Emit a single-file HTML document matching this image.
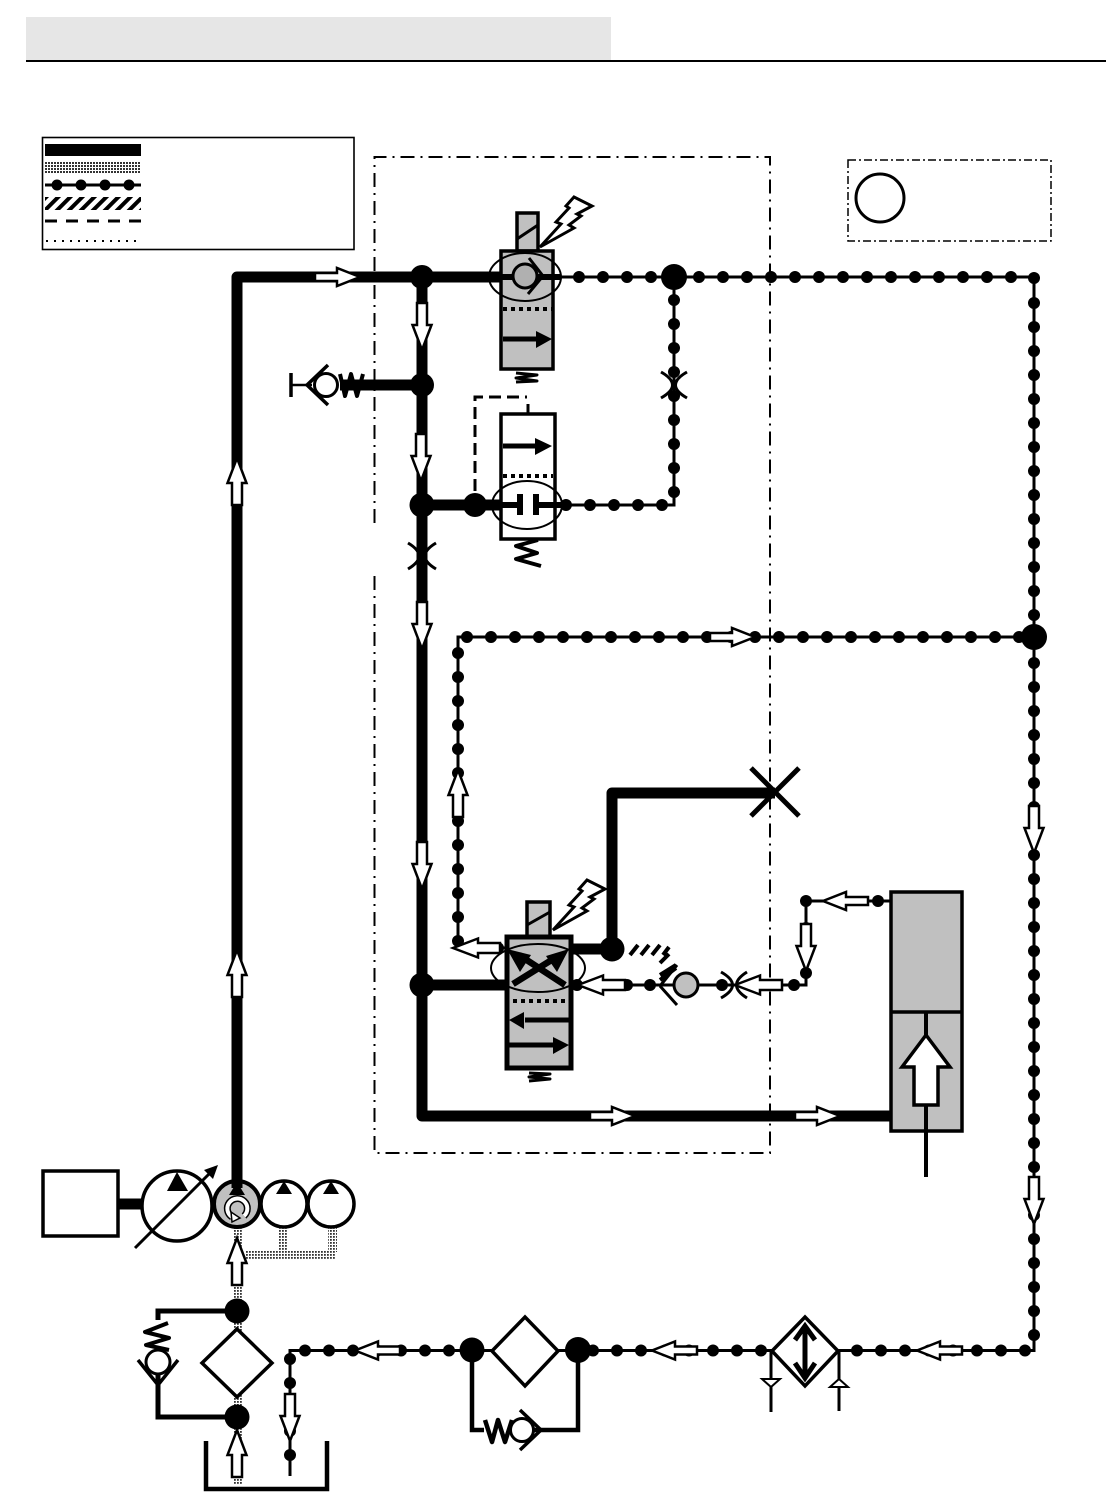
<!DOCTYPE html>
<html><head><meta charset="utf-8"><style>
html,body{margin:0;padding:0;background:#fff}
svg{display:block}
.dots{fill:none;stroke:#000;stroke-width:12;stroke-linecap:round;stroke-dasharray:0 24}
.thin{fill:none;stroke:#000;stroke-width:3}
.thick{fill:none;stroke:#000;stroke-width:11;stroke-linejoin:round;stroke-linecap:butt}
.arc{fill:none;stroke:#000;stroke-width:3}
.sp{fill:none;stroke:#000;stroke-linejoin:round}
</style></head><body>
<svg width="1106" height="1501" viewBox="0 0 1106 1501" xmlns="http://www.w3.org/2000/svg">
<defs>
<pattern id="st" width="3" height="3" patternUnits="userSpaceOnUse"><rect width="3" height="3" fill="#fff"/><rect width="2" height="2" fill="#333"/></pattern>
<pattern id="st2" width="3" height="3" patternUnits="userSpaceOnUse"><rect width="3" height="3" fill="#fff"/><rect width="1.8" height="1.8" fill="#333"/></pattern>
<pattern id="ha" width="8.500" height="8.500" patternUnits="userSpaceOnUse" patternTransform="rotate(45)"><rect width="8.500" height="8.500" fill="#fff"/><rect width="4" height="8.500" fill="#000"/></pattern>
<polygon id="a" points="0,-5 22,-5 22,-9.500 47,0 22,9.500 22,5 0,5" fill="#fff" stroke="#000" stroke-width="2.500"/>
<polygon id="b" points="0,-4 22,-4 22,-9 45,0 22,9 22,4 0,4" fill="#fff" stroke="#000" stroke-width="2.500"/>
</defs>
<rect width="1106" height="1501" fill="#fff"/>

<!-- header -->
<rect x="26" y="17" width="585" height="43" fill="#e6e6e6"/>
<rect x="26" y="60" width="1080" height="2" fill="#000"/>

<!-- legend -->
<rect x="42.500" y="137.500" width="311.500" height="112" fill="#fff" stroke="#000" stroke-width="1.600"/>
<rect x="45" y="144" width="96" height="12" fill="#000"/>
<rect x="45" y="161" width="96" height="13" fill="url(#st)"/>
<path d="M45,185H141" stroke="#000" stroke-width="3"/>
<circle cx="57" cy="185" r="5.500"/><circle cx="81" cy="185" r="5.500"/><circle cx="105" cy="185" r="5.500"/><circle cx="129" cy="185" r="5.500"/>
<rect x="45" y="197" width="96" height="13" fill="url(#ha)"/>
<path d="M45,221H141" stroke="#000" stroke-width="3" stroke-dasharray="12 9"/>
<path d="M46,241H139" stroke="#000" stroke-width="2" stroke-dasharray="2 6"/>

<!-- boundary -->
<path d="M374.500,523V157H770V1153H374.500V573" fill="none" stroke="#000" stroke-width="2" stroke-dasharray="14 6 2 6"/>
<rect x="848" y="160" width="203" height="81" fill="none" stroke="#000" stroke-width="1.500" stroke-dasharray="8 3 2 3"/>
<circle cx="880" cy="198" r="24" fill="#fff" stroke="#000" stroke-width="3"/>

<!-- stipple suction -->
<g fill="url(#st2)">
<rect x="233" y="1228" width="9" height="190"/>
<rect x="245" y="1250" width="91" height="10"/>
<rect x="278" y="1228" width="10" height="24"/>
<rect x="328" y="1228" width="9" height="24"/>
<rect x="233" y="1420" width="9" height="64"/>
</g>

<!-- thin pilot lines with dots -->
<path class="thin" d="M560,277H1034V1350.500H290V1476"/>
<path class="thin" d="M674,277V505H560"/>
<path class="thin" d="M1034,637H458V945L505,948"/>
<path class="dots" d="M579,277H660"/>
<path class="dots" d="M699,277H1020"/>
<circle cx="1034" cy="278" r="6"/>
<path class="dots" d="M1034,303V625"/>
<path class="dots" d="M1034,663V1345"/>
<path class="dots" d="M674,300V500"/>
<path class="dots" d="M566,505H670"/>
<path class="dots" d="M467,637H1025"/>
<path class="dots" d="M458,653V945"/>
<path class="dots" d="M593,1350.500H765"/>
<path class="dots" d="M857,1350.500H1030"/>
<path class="dots" d="M305,1350.500H455"/>
<path class="dots" d="M290,1359V1460"/>
<!-- lower valve pilot -->
<path class="thin" d="M572,985H806V901H890"/>
<g>
<circle cx="577" cy="985" r="6"/><circle cx="627" cy="985" r="6"/><circle cx="650" cy="985" r="6"/><circle cx="722" cy="985" r="6"/><circle cx="794" cy="985" r="6"/><circle cx="806" cy="973" r="6"/><circle cx="806" cy="928" r="6"/><circle cx="806" cy="901" r="6"/><circle cx="878" cy="901" r="6"/><circle cx="498" cy="948" r="6"/>
</g>

<!-- main pressure -->
<path class="thick" d="M237,1185V277H505"/>
<path class="thick" d="M422,277V1116H891"/>
<path class="thick" d="M422,385H340"/>
<path class="thick" d="M422,505H505"/>
<path class="thick" d="M422,985H510"/>
<path class="thick" d="M568,949H612V793H775"/>

<!-- junctions -->
<circle cx="422" cy="277" r="12"/><circle cx="422" cy="385" r="12"/><circle cx="422" cy="505" r="12.500"/><circle cx="475" cy="505" r="12"/><circle cx="422" cy="985" r="12.500"/><circle cx="612" cy="949" r="12.500"/>
<circle cx="674" cy="277" r="13"/><circle cx="1034" cy="637" r="13"/>

<!-- orifices -->
<path class="arc" d="M661,372Q684,385 661,398M687,372Q664,385 687,398"/>
<path class="arc" d="M408,543Q430,556 408,569M436,543Q414,556 436,569"/>
<path class="arc" d="M721,972Q744,985 721,998M747,972Q726,985 747,998"/>

<!-- X plug -->
<path d="M751,768L799,816M799,768L751,816" stroke="#000" stroke-width="5" fill="none"/>

<!-- relief valve top -->
<path d="M291,373V397" stroke="#000" stroke-width="3.500"/>
<path d="M291,385H312" stroke="#000" stroke-width="2.500"/>
<path d="M328,365L307,385L328,405" fill="none" stroke="#000" stroke-width="3.500"/>
<circle cx="326" cy="385" r="11.500" fill="#fff" stroke="#000" stroke-width="3"/>
<polyline class="sp" points="340,374 345,396 351,374 357,396 363,374" stroke-width="4"/>

<!-- valve 1 -->
<rect x="517" y="213" width="21" height="38" fill="#c0c0c0" stroke="#000" stroke-width="3.500"/>
<path d="M517,239L538,225" stroke="#000" stroke-width="3"/>
<rect x="501" y="251" width="52" height="118" fill="#c0c0c0" stroke="#000" stroke-width="3.500"/>
<path d="M500,277H560" stroke="#000" stroke-width="6"/>
<ellipse cx="525" cy="277" rx="36" ry="24" fill="none" stroke="#000" stroke-width="2"/>
<circle cx="525" cy="276" r="12" fill="#b0b0b0" stroke="#000" stroke-width="3"/>
<path d="M529,258L543,276L528,294" fill="none" stroke="#000" stroke-width="3"/>
<path d="M503,309H553" stroke="#000" stroke-width="4" stroke-dasharray="4 4"/>
<path d="M503,339H537" stroke="#000" stroke-width="5"/>
<polygon points="536,331 552,339 536,348"/>
<polyline class="sp" points="516,373 537,375 516,378 537,381 516,382" stroke-width="3"/>
<polygon points="540,247 561,224 556,222 569,208 566,206 574,197 592,206 577,214 581,216 569,225 574,228" fill="#fff" stroke="#000" stroke-width="3"/>

<!-- valve 2 -->
<path d="M475,491V397H527" fill="none" stroke="#000" stroke-width="3" stroke-dasharray="12 6"/>
<path d="M528,404V414" stroke="#000" stroke-width="3"/>
<rect x="501" y="414" width="54" height="125" fill="#fff" stroke="#000" stroke-width="3.500"/>
<path d="M503,446H537" stroke="#000" stroke-width="5"/>
<polygon points="535,438 552,446 535,455"/>
<path d="M503,476H553" stroke="#000" stroke-width="4" stroke-dasharray="4 4"/>
<path d="M475,505H518M538,505H566" stroke="#000" stroke-width="6"/>
<rect x="517" y="494" width="6" height="21"/><rect x="533" y="494" width="6" height="21"/>
<ellipse cx="527" cy="505" rx="35" ry="24" fill="none" stroke="#000" stroke-width="2"/>
<polyline class="sp" points="538,540 516,546 537,553 516,559 541,566" stroke-width="4"/>

<!-- valve 3 -->
<rect x="527" y="902" width="23" height="35" fill="#c0c0c0" stroke="#000" stroke-width="3.500"/>
<path d="M527,925L550,912" stroke="#000" stroke-width="3"/>
<rect x="507" y="937" width="64" height="131" fill="#c0c0c0" stroke="#000" stroke-width="5"/>
<ellipse cx="538" cy="968" rx="47" ry="24" fill="none" stroke="#000" stroke-width="2"/>
<path d="M513,984L558,956M565,985L519,955" stroke="#000" stroke-width="6.500"/>
<polygon points="569,949 546,956 557,972"/>
<polygon points="507,949 531,955 520,972"/>
<path d="M513,1001H568" stroke="#000" stroke-width="4" stroke-dasharray="4 4"/>
<path d="M525,1020H570" stroke="#000" stroke-width="5"/>
<polygon points="509,1020 524,1012 524,1029"/>
<path d="M508,1045H553" stroke="#000" stroke-width="5"/>
<polygon points="569,1045 553,1037 553,1054"/>
<polyline class="sp" points="529,1073 550,1074 529,1077 550,1079 529,1081" stroke-width="3"/>
<polygon points="553,930 574,907 569,905 582,891 579,889 587,880 605,889 590,897 594,899 582,908 587,911" fill="#fff" stroke="#000" stroke-width="3"/>

<!-- hatch line -->
<path d="M630,955L638,945M641,955L649,945M652,955L660,945M663,955L669,947M660,963L669,954M660,975L676,965M660,980L676,968" fill="none" stroke="#000" stroke-width="4"/>

<!-- check lower -->
<path d="M660,986L677,1005M660,986L677,965" stroke="#000" stroke-width="3" fill="none"/>
<circle cx="686" cy="985" r="12" fill="#c0c0c0" stroke="#000" stroke-width="3"/>

<!-- cylinder -->
<rect x="891" y="892" width="71" height="239" fill="#c0c0c0" stroke="#000" stroke-width="3.500"/>
<path d="M890,1012H963" stroke="#000" stroke-width="3.500"/>
<path d="M926,1012V1036M926,1105V1177" stroke="#000" stroke-width="4"/>
<polygon points="926,1035 902,1067 914,1067 914,1105 938,1105 938,1067 950,1067" fill="#fff" stroke="#000" stroke-width="3.500"/>

<!-- motor and pumps -->
<rect x="43" y="1171" width="75" height="65" fill="#fff" stroke="#000" stroke-width="3.500"/>
<path d="M118,1204H143" stroke="#000" stroke-width="11"/>
<circle cx="177" cy="1206" r="35" fill="#fff" stroke="#000" stroke-width="3.500"/>
<polygon points="177,1172 167,1191 188,1191"/>
<path d="M135,1248L212,1171" stroke="#000" stroke-width="3"/>
<polygon points="218,1165 204,1170 213,1179"/>
<circle cx="237" cy="1204" r="23" fill="#c0c0c0" stroke="#000" stroke-width="4"/>
<path d="M237,1180V1188" stroke="#000" stroke-width="11"/>
<polygon points="237,1182 229,1195 245,1195"/>
<path d="M232,1217A10,10 0 1 1 244,1216" fill="none" stroke="#000" stroke-width="7"/>
<path d="M232,1217A10,10 0 1 1 244,1216" fill="none" stroke="#fff" stroke-width="4"/>
<polygon points="231,1212 240,1218 232,1222" fill="#fff" stroke="#000" stroke-width="1.500"/>
<circle cx="284" cy="1204" r="23" fill="#fff" stroke="#000" stroke-width="3.500"/>
<polygon points="284,1181 276,1194 292,1194"/>
<circle cx="331" cy="1204" r="23" fill="#fff" stroke="#000" stroke-width="3.500"/>
<polygon points="331,1181 323,1194 339,1194"/>

<!-- suction filter -->
<path d="M237,1311H158V1417H237" fill="none" stroke="#000" stroke-width="5"/>
<rect x="142" y="1320" width="32" height="32" fill="#fff"/>
<path d="M158,1320V1352" stroke="#000" stroke-width="0"/>
<polyline class="sp" points="168,1323 145,1332 169,1338 146,1345 169,1350" stroke-width="4"/>
<circle cx="158" cy="1362" r="12" fill="#fff" stroke="#000" stroke-width="3"/>
<path d="M138,1360L158,1385L178,1360" fill="none" stroke="#000" stroke-width="3.500"/>
<polygon points="237,1329 272,1363 237,1397 202,1363" fill="#fff" stroke="#000" stroke-width="3.500"/>
<circle cx="237" cy="1311" r="12.500"/><circle cx="237" cy="1417" r="12.500"/>
<path d="M206,1441V1489H327V1441" fill="none" stroke="#000" stroke-width="4.500"/>

<!-- return filter -->
<path d="M472,1350V1430H578V1350" fill="none" stroke="#000" stroke-width="4.500"/>
<polygon points="525,1317 558,1351 525,1386 492,1351" fill="#fff" stroke="#000" stroke-width="3.500"/>
<circle cx="472" cy="1350" r="12.500"/><circle cx="578" cy="1350" r="13"/>
<rect x="484" y="1419" width="30" height="25" fill="#fff"/>
<polyline class="sp" points="485,1420 492,1442 498,1420 505,1442 512,1420" stroke-width="4.500"/>
<circle cx="522" cy="1430" r="11.500" fill="#fff" stroke="#000" stroke-width="3"/>
<path d="M520,1410L541,1430L520,1450" fill="none" stroke="#000" stroke-width="3.500"/>

<!-- cooler -->
<polygon points="805,1317 838,1351 805,1386 772,1351" fill="#fff" stroke="#000" stroke-width="3.500"/>
<path d="M805,1328V1376" stroke="#000" stroke-width="5"/>
<path d="M795,1340L805,1326L815,1340M795,1363L805,1378L815,1363" fill="none" stroke="#000" stroke-width="5"/>
<path d="M771,1350V1412M839,1350V1411" stroke="#000" stroke-width="3"/>
<polygon points="762,1379 780,1379 771,1387" fill="#fff" stroke="#000" stroke-width="2"/>
<polygon points="830,1387 848,1387 839,1379" fill="#fff" stroke="#000" stroke-width="2"/>

<!-- flow arrows -->
<use href="#b" transform="translate(315,277)"/>
<use href="#a" transform="translate(422,303) rotate(90)"/>
<use href="#a" transform="translate(421,434) rotate(90)"/>
<use href="#a" transform="translate(422,602) rotate(90)"/>
<use href="#a" transform="translate(422,842) rotate(90)"/>
<use href="#a" transform="translate(237,505) rotate(-90)"/>
<use href="#a" transform="translate(237,997) rotate(-90)"/>
<use href="#a" transform="translate(237,1285) rotate(-90)"/>
<use href="#a" transform="translate(237,1477) rotate(-90)"/>
<use href="#a" transform="translate(1034,806) rotate(90)"/>
<use href="#a" transform="translate(1034,1177) rotate(90)"/>
<use href="#a" transform="translate(458,817) rotate(-90)"/>
<use href="#a" transform="translate(290,1394) rotate(90)"/>
<use href="#a" transform="translate(806,924) rotate(90)"/>
<use href="#b" transform="translate(962,1350.500) rotate(180)"/>
<use href="#b" transform="translate(697,1350.500) rotate(180)"/>
<use href="#b" transform="translate(400,1350.500) rotate(180)"/>
<use href="#a" transform="translate(625,985) rotate(180)"/>
<use href="#a" transform="translate(782,985) rotate(180)"/>
<use href="#a" transform="translate(500,948) rotate(180)"/>
<use href="#b" transform="translate(868,901) rotate(180)"/>
<use href="#b" transform="translate(710,637)"/>
<use href="#b" transform="translate(590,1116)"/>
<use href="#b" transform="translate(795,1116)"/>
</svg>
</body></html>
